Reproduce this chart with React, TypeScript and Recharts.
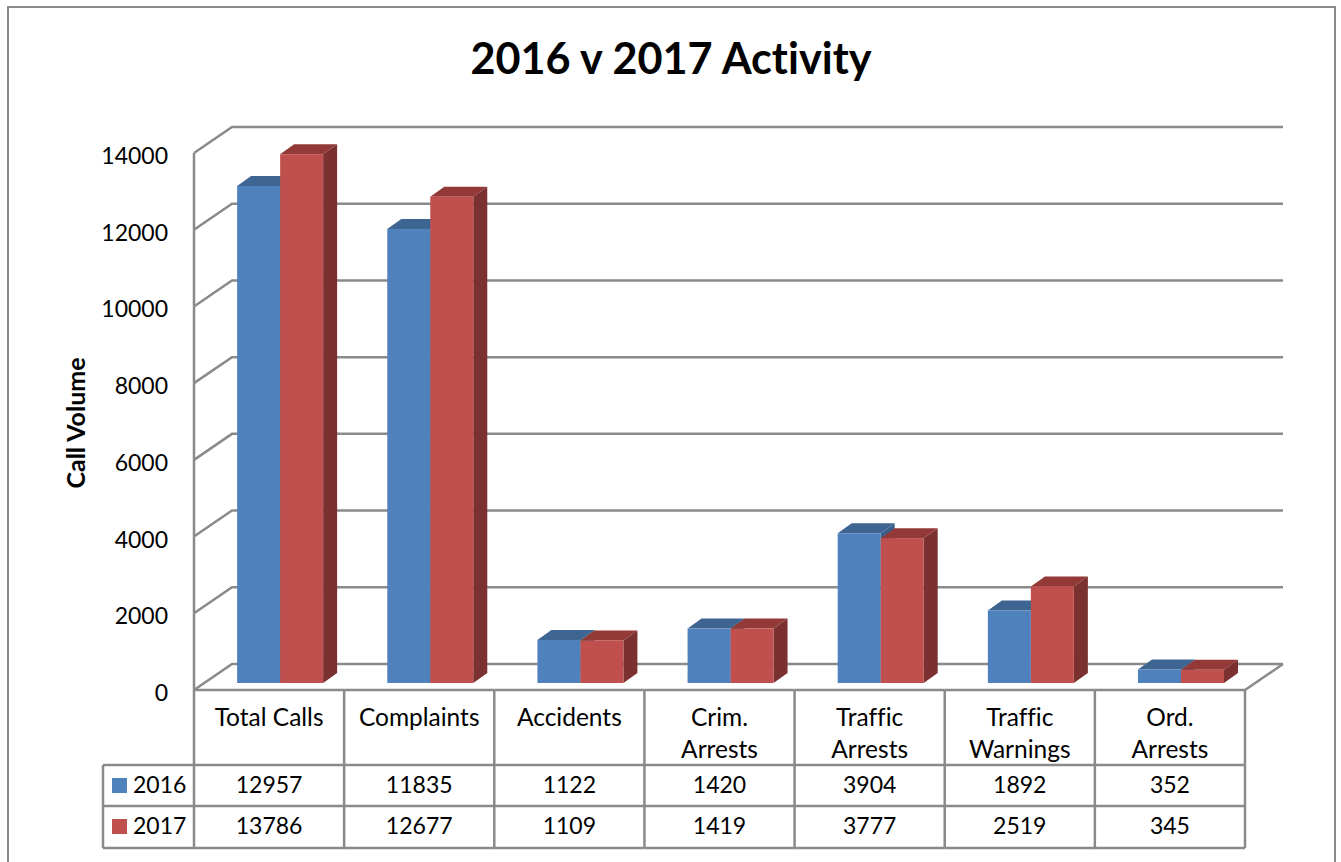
import React from "react";
import { BarChart, Bar, XAxis, YAxis, CartesianGrid } from "recharts";

const categories = ["Total Calls", "Complaints", "Accidents", "Crim.\nArrests", "Traffic\nArrests", "Traffic\nWarnings", "Ord.\nArrests"];
const values2016 = [12957, 11835, 1122, 1420, 3904, 1892, 352];
const values2017 = [13786, 12677, 1109, 1419, 3777, 2519, 345];
const yTicks = [0, 2000, 4000, 6000, 8000, 10000, 12000, 14000];
const seriesNames = ["2016", "2017"];

const data = categories.map((name, i) => ({ name, y2016: values2016[i], y2017: values2017[i] }));

const W = 1341, H = 862;
const PLOT_LEFT = 205, PLOT_RIGHT = 1256, PLOT_TOP = 146, PLOT_BOTTOM = 683;
const BAND = (PLOT_RIGHT - PLOT_LEFT) / categories.length;
const STEP = (PLOT_BOTTOM - PLOT_TOP) / (yTicks.length - 1);
const FRONT_DX = -11, FRONT_DY = 7, BACK_DX = 27, BACK_DY = -19;
const DEPTH_X = 14, DEPTH_Y = 10;
const LINE = "#8a8a8a";
const FONT = "Lato, 'Open Sans', sans-serif";
const NUM_SIZE = 23;
const LABEL_SIZE = 24.5;
const BLUE = { front: "#4f81bd", top: "#3e6592", side: "#3a5f8b" };
const RED = { front: "#c0504d", top: "#933a38", side: "#7b3130" };
const noLig = { fontVariantLigatures: "none" as const };

function bar3d(c: typeof BLUE) {
  return (p: any) => {
    const { x, y, width: w, height: h } = p;
    return (
      <g>
        <polygon fill={c.top} points={`${x},${y} ${x + DEPTH_X},${y - DEPTH_Y} ${x + w + DEPTH_X},${y - DEPTH_Y} ${x + w},${y}`} />
        <polygon fill={c.side} points={`${x + w},${y} ${x + w + DEPTH_X},${y - DEPTH_Y} ${x + w + DEPTH_X},${y + h - DEPTH_Y} ${x + w},${y + h}`} />
        <rect x={x} y={y} width={w} height={h} fill={c.front} />
      </g>
    );
  };
}

function gridLine(p: any) {
  const { x1, x2, y1: y } = p;
  const fx = x1 + FRONT_DX, bx = x1 + BACK_DX, ex = x2 + BACK_DX;
  const isFloor = Math.abs(y - PLOT_BOTTOM) < 1;
  return (
    <g key={`g-${y}`} fill="none" stroke={LINE} strokeWidth={2.5}>
      <polyline points={`${fx},${y + FRONT_DY} ${bx},${y + BACK_DY} ${ex},${y + BACK_DY}`} />
      {!isFloor && <line x1={fx} y1={y + FRONT_DY} x2={fx} y2={y + FRONT_DY + STEP} />}
      {isFloor && <line x1={ex} y1={y + BACK_DY} x2={x2 + FRONT_DX} y2={y + FRONT_DY} />}
    </g>
  );
}

function yTick(p: any) {
  return (
    <text x={168} y={p.y + 18} textAnchor="end" fontFamily={FONT} fontSize={NUM_SIZE} fill="#000">
      {p.payload.value}
    </text>
  );
}

const T = { top: 690, head: 765, row1: 806, row2: 848, legendLeft: 103 };

function xTick(p: any) {
  const i = categories.indexOf(p.payload.value);
  const cx = p.x + FRONT_DX;
  const left = cx - BAND / 2, right = cx + BAND / 2;
  const lines = String(p.payload.value).split("\n");
  const num = { fontFamily: FONT, fontSize: NUM_SIZE, fill: "#000" };
  const lab = { fontFamily: FONT, fontSize: LABEL_SIZE, fill: "#000", style: noLig };
  return (
    <g>
      <g stroke={LINE} strokeWidth={2.5}>
        <line x1={left} y1={T.top} x2={right} y2={T.top} />
        <line x1={left} y1={T.head} x2={right} y2={T.head} />
        <line x1={left} y1={T.row1} x2={right} y2={T.row1} />
        <line x1={left} y1={T.row2} x2={right} y2={T.row2} />
        <line x1={right} y1={T.top} x2={right} y2={T.row2} />
        {i === 0 && (
          <>
            <line x1={left} y1={T.top} x2={left} y2={T.row2} />
            <line x1={T.legendLeft} y1={T.head} x2={left} y2={T.head} />
            <line x1={T.legendLeft} y1={T.row1} x2={left} y2={T.row1} />
            <line x1={T.legendLeft} y1={T.row2} x2={left} y2={T.row2} />
            <line x1={T.legendLeft} y1={T.head} x2={T.legendLeft} y2={T.row2} />
          </>
        )}
      </g>
      {lines.map((l, k) => (
        <text key={k} x={cx} y={726 + k * 32} textAnchor="middle" {...lab}>{l}</text>
      ))}
      <text x={cx} y={793} textAnchor="middle" {...num}>{values2016[i]}</text>
      <text x={cx} y={834} textAnchor="middle" {...num}>{values2017[i]}</text>
      {i === 0 && (
        <>
          <rect x={112} y={778} width={15} height={15} fill={BLUE.front} />
          <text x={133} y={793} {...num}>{seriesNames[0]}</text>
          <rect x={112} y={819} width={15} height={15} fill={RED.front} />
          <text x={133} y={834} {...num}>{seriesNames[1]}</text>
        </>
      )}
    </g>
  );
}

export default function App() {
  return (
    <div style={{ position: "absolute", left: 0, top: 0, width: W, height: H, overflow: "hidden", background: "#fff" }}>
      <BarChart
        width={W}
        height={H}
        data={data}
        margin={{ top: PLOT_TOP, right: W - PLOT_RIGHT, bottom: 0, left: 0 }}
        barCategoryGap="21.4%"
        barGap={0}
      >
        <polyline points={`8,${H} 8,7 1335,7 1335,${H}`} fill="none" stroke={LINE} strokeWidth={2} />
        <text x={671} y={74} textAnchor="middle" fontFamily={FONT} fontWeight={700} fontSize={43.2} fill="#000" style={noLig}>
          2016 v 2017 Activity
        </text>
        <text
          x={85}
          y={423}
          textAnchor="middle"
          transform="rotate(-90 85 423)"
          fontFamily={FONT}
          fontWeight={700}
          fontSize={25}
          fill="#000"
        >
          Call Volume
        </text>
        <CartesianGrid horizontal={gridLine} vertical={false} />
        <XAxis dataKey="name" height={H - PLOT_BOTTOM} interval={0} axisLine={false} tickLine={false} tick={xTick} />
        <YAxis width={PLOT_LEFT} domain={[0, 14000]} ticks={yTicks} axisLine={false} tickLine={false} tick={yTick} />
        <Bar dataKey="y2016" name={seriesNames[0]} isAnimationActive={false} shape={bar3d(BLUE)} />
        <Bar dataKey="y2017" name={seriesNames[1]} isAnimationActive={false} shape={bar3d(RED)} />
      </BarChart>
    </div>
  );
}
